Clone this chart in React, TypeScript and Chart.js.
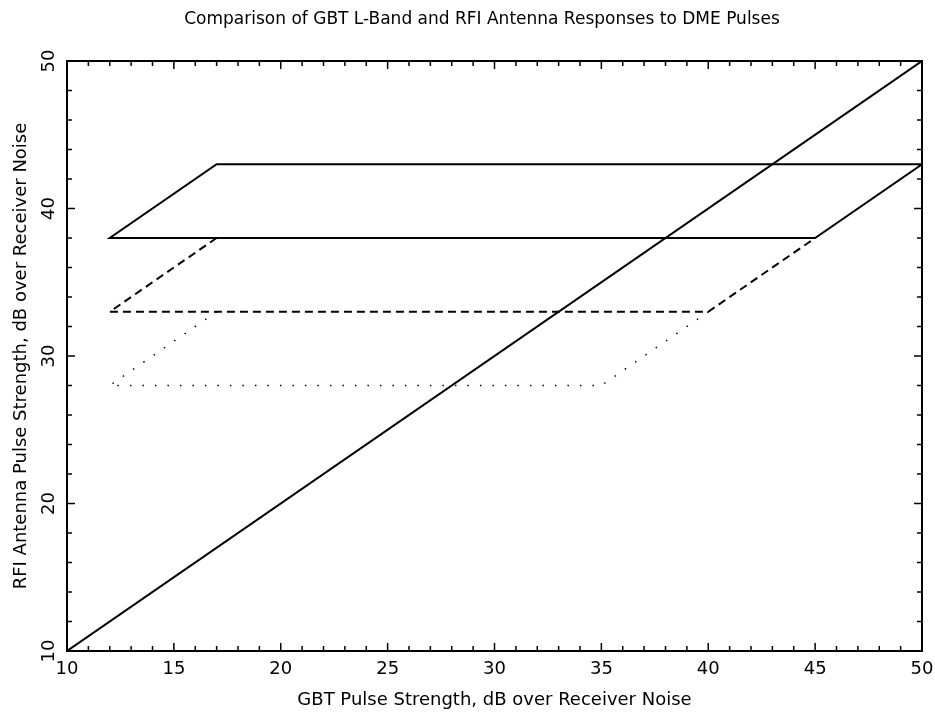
import React, { useEffect, useRef } from "react";
import { Chart, registerables } from "chart.js";

Chart.register(...registerables);

const chartTitle = "Comparison of GBT L-Band and RFI Antenna Responses to DME Pulses";
const xAxisTitle = "GBT Pulse Strength, dB over Receiver Noise";
const yAxisTitle = "RFI Antenna Pulse Strength, dB over Receiver Noise";

const axisMin = 10;
const axisMax = 50;
const xMajorStep = 5;
const xMinorStep = 1;
const yMajorStep = 10;
const yMinorStep = 2;

// equality line
const diagonalX = [10, 50];
const diagonalY = [10, 50];
// solid parallelogram
const solidX = [50, 17, 12, 45, 50];
const solidY = [43, 43, 38, 38, 43];
// dashed parallelogram
const dashedX = [17, 12, 40, 45];
const dashedY = [38, 33, 33, 38];
// dotted parallelogram
const dottedX = [17, 12, 35, 40];
const dottedY = [33, 28, 28, 33];

const FONT = "'DejaVu Sans', sans-serif";

const zip = (xs: number[], ys: number[]) => xs.map((x, i) => ({ x, y: ys[i] }));

const framePlugin = {
  id: "frameTicks",
  afterDatasetsDraw(chart: any) {
    const { ctx, chartArea: a, scales } = chart;
    const xs = scales.x;
    const ys = scales.y;
    ctx.save();
    ctx.strokeStyle = "#000";
    ctx.lineWidth = 2;
    ctx.strokeRect(a.left, a.top, a.right - a.left, a.bottom - a.top);
    ctx.lineWidth = 1.5;
    const seg = (x1: number, y1: number, x2: number, y2: number) => {
      ctx.beginPath();
      ctx.moveTo(x1, y1);
      ctx.lineTo(x2, y2);
      ctx.stroke();
    };
    for (let v = axisMin + xMinorStep; v < axisMax; v += xMinorStep) {
      const px = xs.getPixelForValue(v);
      const len = v % xMajorStep === 0 ? 8 : 5;
      seg(px, a.bottom, px, a.bottom - len);
      seg(px, a.top, px, a.top + len);
    }
    for (let v = axisMin + yMinorStep; v < axisMax; v += yMinorStep) {
      const py = ys.getPixelForValue(v);
      const len = v % yMajorStep === 0 ? 8 : 5;
      seg(a.left, py, a.left + len, py);
      seg(a.right, py, a.right - len, py);
    }
    ctx.restore();
  },
};

const titlePlugin = {
  id: "plotTitle",
  afterDraw(chart: any) {
    const { ctx } = chart;
    ctx.save();
    ctx.fillStyle = "#000";
    ctx.font = `17px ${FONT}`;
    ctx.textAlign = "center";
    ctx.textBaseline = "middle";
    ctx.fillText(chartTitle, 482, 20);
    ctx.restore();
  },
};

export default function App() {
  const canvasRef = useRef<HTMLCanvasElement | null>(null);

  useEffect(() => {
    const canvas = canvasRef.current;
    if (!canvas) return;
    const lineBase = {
      showLine: true,
      pointRadius: 0,
      pointHoverRadius: 0,
      fill: false,
      tension: 0,
      borderColor: "#000",
      borderCapStyle: "butt",
      borderJoinStyle: "miter",
    };
    const chart = new Chart(canvas, {
      type: "scatter",
      data: {
        datasets: [
          { ...lineBase, label: "equal", data: zip(diagonalX, diagonalY), borderWidth: 2 },
          { ...lineBase, label: "solid", data: zip(solidX, solidY), borderWidth: 2 },
          { ...lineBase, label: "dashed", data: zip(dashedX, dashedY), borderWidth: 2, borderDash: [8, 5] },
          { ...lineBase, label: "dotted", data: zip(dottedX, dottedY), borderWidth: 1.5, borderDash: [1.5, 11] },
        ] as any,
      },
      options: {
        animation: false,
        responsive: false,
        layout: { padding: { left: 0, right: 13, top: 61, bottom: 0 } },
        plugins: {
          legend: { display: false },
          tooltip: { enabled: false },
          title: { display: false },
        },
        scales: {
          x: {
            type: "linear",
            min: axisMin,
            max: axisMax,
            grid: { display: false, drawTicks: false },
            border: { display: false },
            ticks: {
              stepSize: xMajorStep,
              color: "#000",
              padding: 8,
              maxRotation: 0,
              font: { family: FONT, size: 18 },
            },
            title: {
              display: true,
              text: xAxisTitle,
              color: "#000",
              font: { family: FONT, size: 18, lineHeight: 1.2 },
              padding: { top: 0, bottom: 7 },
            },
            afterFit: (s: any) => {
              s.height = 67;
              s.paddingLeft = 0;
              s.paddingRight = 0;
            },
          },
          y: {
            type: "linear",
            min: axisMin,
            max: axisMax,
            grid: { display: false, drawTicks: false },
            border: { display: false },
            ticks: {
              stepSize: yMajorStep,
              color: "#000",
              padding: 6,
              minRotation: 90,
              maxRotation: 90,
              crossAlign: "center",
              font: { family: FONT, size: 18 },
            },
            title: {
              display: true,
              text: yAxisTitle,
              color: "#000",
              font: { family: FONT, size: 18, lineHeight: 1.2 },
              padding: { top: 11, bottom: 0 },
            },
            afterFit: (s: any) => {
              s.width = 67;
              s.paddingTop = 0;
              s.paddingBottom = 0;
            },
          },
        },
      } as any,
      plugins: [framePlugin, titlePlugin],
    });
    return () => chart.destroy();
  }, []);

  return (
    <div style={{ position: "absolute", left: 0, top: 0, width: 935, height: 718, background: "#fff" }}>
      <canvas ref={canvasRef} width={935} height={718} />
    </div>
  );
}
